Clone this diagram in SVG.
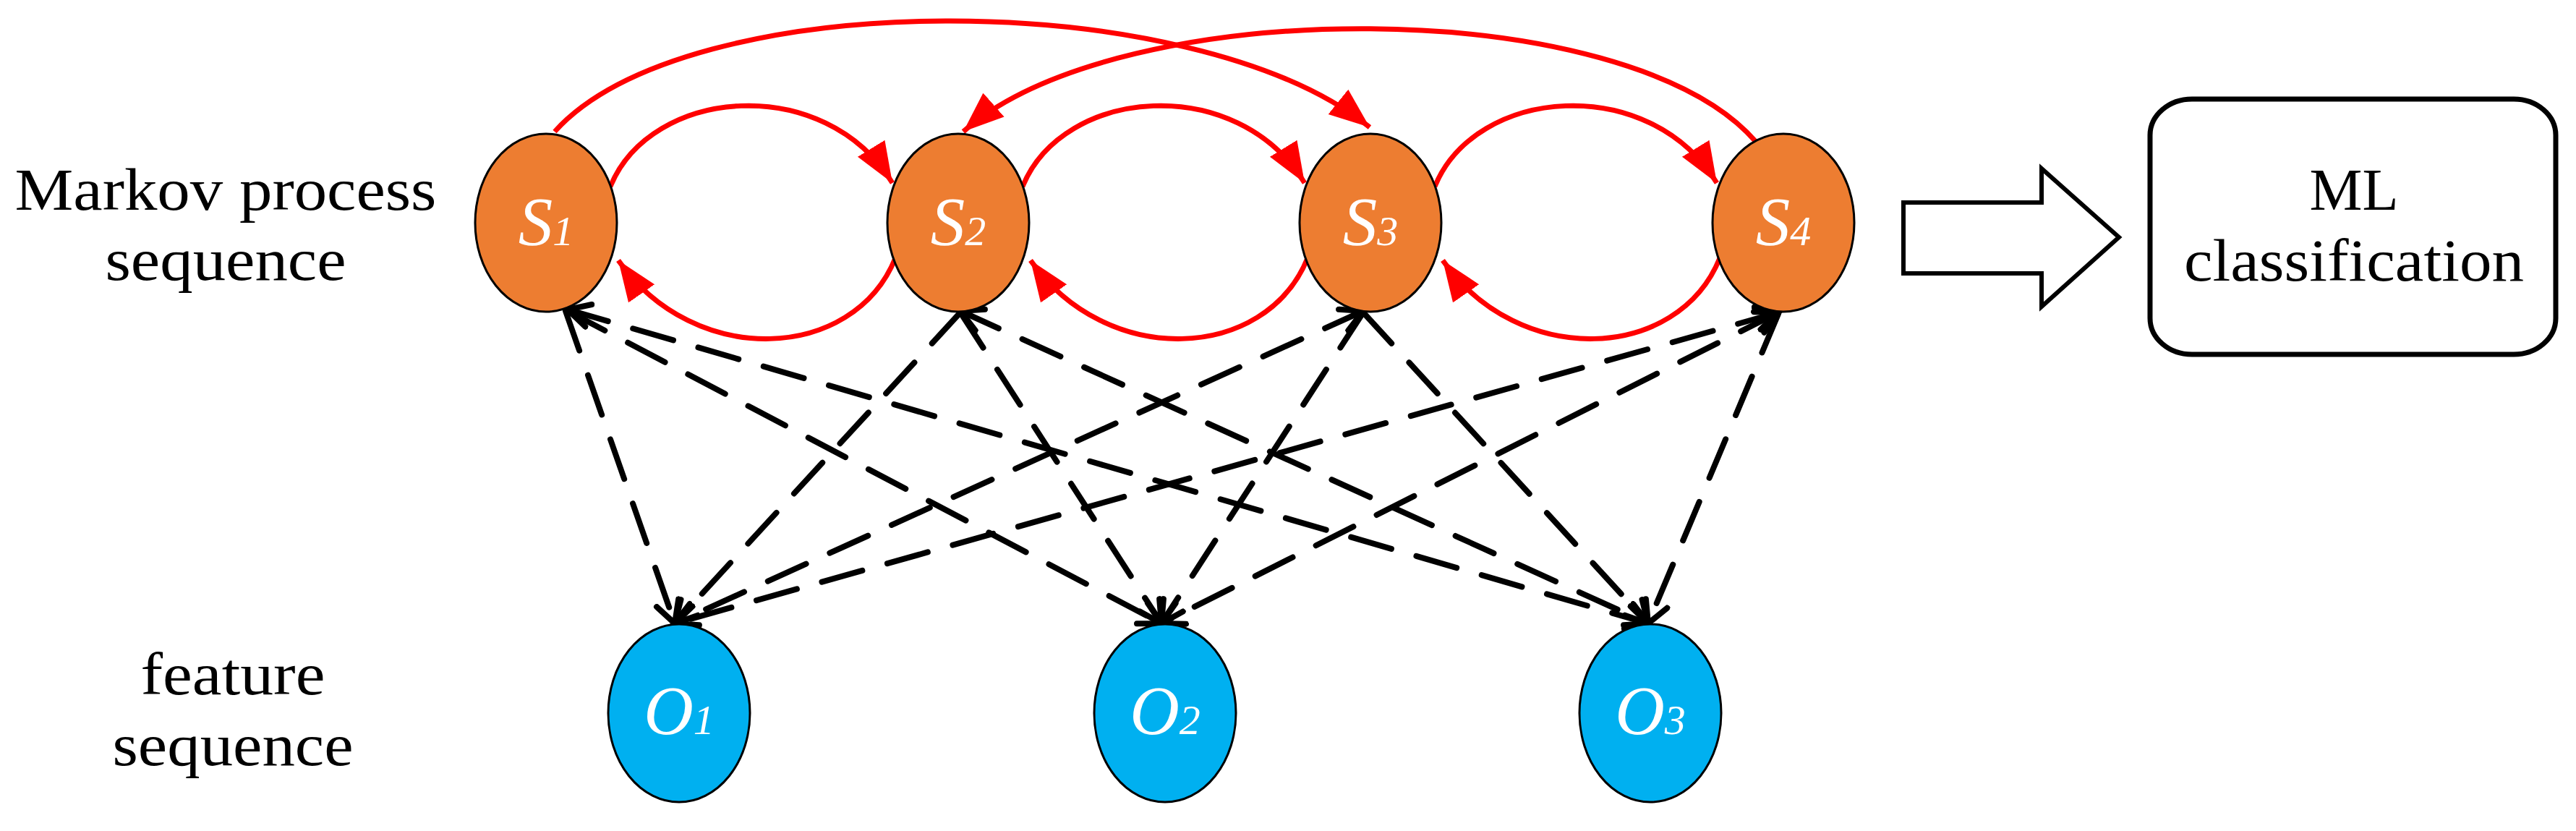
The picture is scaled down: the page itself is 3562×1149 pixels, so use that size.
<svg xmlns="http://www.w3.org/2000/svg" width="3562" height="1149" viewBox="0 0 3562 1149">
<style>
.s{fill:#ED7D31;stroke:#000;stroke-width:3}
.o{fill:#00B0F0;stroke:#000;stroke-width:3}
.lab{font-family:"Liberation Serif",serif;font-style:italic;fill:#fff;font-size:95px}
.sub{font-size:58px}
.txt{font-family:"Liberation Serif",serif;font-size:82px;fill:#000}
.red{fill:none;stroke:#FF0000;stroke-width:7}
.dash{fill:none;stroke:#000;stroke-width:8;stroke-dasharray:58 36;stroke-linecap:round}
</style>
<defs>
<marker id="ra" markerUnits="userSpaceOnUse" markerWidth="60" markerHeight="50" refX="56" refY="22" orient="auto"><path d="M0 0 L56 22 L0 44 z" fill="#FF0000"/></marker>
<marker id="da" markerUnits="userSpaceOnUse" markerWidth="50" markerHeight="50" refX="34" refY="20" orient="auto-start-reverse"><path d="M4 4 L34 20 L4 36" fill="none" stroke="#000" stroke-width="8" stroke-linecap="round"/></marker>
</defs>
<g id="connectors">
<path class="red" marker-end="url(#ra)" d="M844 258 C900 120 1140 100 1234 253"/>
<path class="red" marker-end="url(#ra)" d="M1414 258 C1470 120 1710 100 1804 253"/>
<path class="red" marker-end="url(#ra)" d="M1984 258 C2040 120 2280 100 2374 253"/>
<path class="red" marker-end="url(#ra)" d="M1238 357 C1180 500 960 510 855 360"/>
<path class="red" marker-end="url(#ra)" d="M1808 357 C1750 500 1530 510 1425 360"/>
<path class="red" marker-end="url(#ra)" d="M2378 357 C2320 500 2100 510 1995 360"/>
<path class="red" marker-end="url(#ra)" d="M767 182 C950 -21 1650 -21 1894 176"/>
<path class="red" marker-end="url(#ra)" d="M2428 196 C2250 -10 1550 -10 1332 182"/>
<path class="dash" marker-end="url(#da)" d="M782 430 L933 862"/>
<path class="dash" marker-end="url(#da)" d="M785 430 L1606 862"/>
<path class="dash" marker-start="url(#da)" marker-end="url(#da)" d="M785 428 L2279 862"/>
<path class="dash" marker-end="url(#da)" d="M1328 432 L933 862"/>
<path class="dash" marker-end="url(#da)" d="M1328 432 L1606 862"/>
<path class="dash" marker-start="url(#da)" marker-end="url(#da)" d="M1328 430 L2279 862"/>
<path class="dash" marker-start="url(#da)" marker-end="url(#da)" d="M1885 430 L933 862"/>
<path class="dash" marker-end="url(#da)" d="M1885 432 L1606 862"/>
<path class="dash" marker-end="url(#da)" d="M1885 432 L2279 862"/>
<path class="dash" marker-start="url(#da)" marker-end="url(#da)" d="M2459 432 L933 862"/>
<path class="dash" marker-start="url(#da)" marker-end="url(#da)" d="M2459 432 L1606 862"/>
<path class="dash" marker-end="url(#da)" d="M2459 434 L2279 862"/>
</g>
<g id="S1"><ellipse class="s" cx="755" cy="308" rx="98" ry="123"/><text class="lab" x="755" y="339" text-anchor="middle">S<tspan class="sub">1</tspan></text></g>
<g id="S2"><ellipse class="s" cx="1325" cy="308" rx="98" ry="123"/><text class="lab" x="1325" y="339" text-anchor="middle">S<tspan class="sub">2</tspan></text></g>
<g id="S3"><ellipse class="s" cx="1895" cy="308" rx="98" ry="123"/><text class="lab" x="1895" y="339" text-anchor="middle">S<tspan class="sub">3</tspan></text></g>
<g id="S4"><ellipse class="s" cx="2466" cy="308" rx="98" ry="123"/><text class="lab" x="2466" y="339" text-anchor="middle">S<tspan class="sub">4</tspan></text></g>
<g id="O1"><ellipse class="o" cx="939" cy="986" rx="98" ry="123"/><text class="lab" x="939" y="1015" text-anchor="middle">O<tspan class="sub">1</tspan></text></g>
<g id="O2"><ellipse class="o" cx="1611" cy="986" rx="98" ry="123"/><text class="lab" x="1611" y="1015" text-anchor="middle">O<tspan class="sub">2</tspan></text></g>
<g id="O3"><ellipse class="o" cx="2282" cy="986" rx="98" ry="123"/><text class="lab" x="2282" y="1015" text-anchor="middle">O<tspan class="sub">3</tspan></text></g>
<g id="arrow"><path d="M2632 280 L2823 280 L2823 233 L2930 328 L2823 424 L2823 378 L2632 378 z" fill="#fff" stroke="#000" stroke-width="6"/></g>
<g id="ML"><rect x="2973" y="137" width="561" height="353" rx="58" ry="50" fill="#fff" stroke="#000" stroke-width="7"/>
<text class="txt" x="3255" y="290" text-anchor="middle">ML</text>
<text class="txt" x="3255" y="388" text-anchor="middle" textLength="470" lengthAdjust="spacingAndGlyphs">classification</text></g>
<g id="labels">
<text class="txt" x="312" y="290" text-anchor="middle" textLength="583" lengthAdjust="spacingAndGlyphs">Markov process</text>
<text class="txt" x="312" y="387" text-anchor="middle" textLength="333" lengthAdjust="spacingAndGlyphs">sequence</text>
<text class="txt" x="322" y="960" text-anchor="middle" textLength="255" lengthAdjust="spacingAndGlyphs">feature</text>
<text class="txt" x="322" y="1058" text-anchor="middle" textLength="333" lengthAdjust="spacingAndGlyphs">sequence</text>
</g>
</svg>
